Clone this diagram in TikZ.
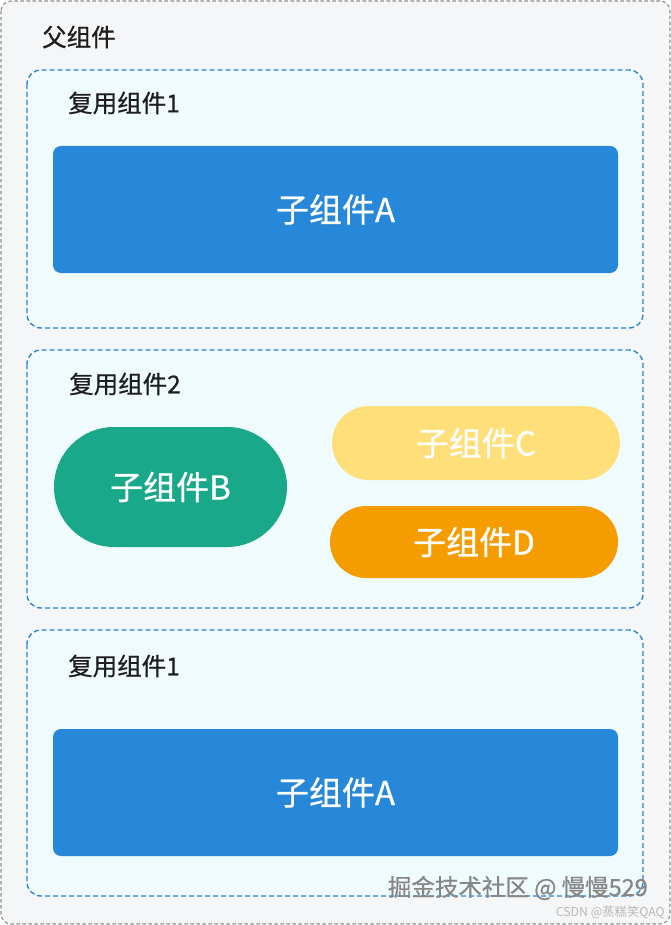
\documentclass[tikz,border=0pt]{standalone}
\usepackage{fontspec}
\setmainfont{Noto Sans CJK SC}
\newfontfamily\medfont[FakeBold=0.6]{Noto Sans CJK SC}
\usetikzlibrary{shapes.misc}
\definecolor{outerfill}{HTML}{F5F6F8}
\definecolor{outerline}{HTML}{8E8E8E}
\definecolor{innerfill}{HTML}{F0FBFE}
\definecolor{innerline}{HTML}{2F84D3}
\definecolor{ablue}{HTML}{2787D9}
\definecolor{bgreen}{HTML}{19A88A}
\definecolor{cyellow}{HTML}{FFDF7A}
\definecolor{dorange}{HTML}{F59D00}
\definecolor{labeltext}{HTML}{1E1E1E}
\tikzset{
  outerbox/.style={draw=outerline, fill=outerfill, dash pattern=on 3.5pt off 2.5pt, rounded corners=10pt, line width=1.1pt},
  reusebox/.style={draw=innerline, fill=innerfill, dash pattern=on 5pt off 3pt, rounded corners=14pt, line width=1.4pt},
  lbl/.style={anchor=west, text=labeltext, font=\medfont\fontsize{24.5}{28}\selectfont, inner sep=0pt},
  compbox/.style={rectangle, rounded corners=8pt, text=white, font=\medfont\fontsize{33}{38}\selectfont, inner sep=0pt},
  pill/.style={rounded rectangle, text=white, font=\medfont\fontsize{33}{38}\selectfont, inner sep=0pt},
}
\begin{document}
\begin{tikzpicture}[x=1pt,y=-1pt]
\useasboundingbox (0,0) rectangle (671,925);
\draw[outerbox] (1,1) rectangle (670,924);
\node[lbl] (parent) at (42,37) {父组件};
% reusable 1
\draw[reusebox] (27,70) rectangle (643,328);
\node[lbl] (r1) at (68,103) {复用组件1};
\node[compbox, fill=ablue, minimum width=565pt, minimum height=127pt] (a1) at (335.5,209.5) {子组件A};
% reusable 2
\draw[reusebox] (27,350) rectangle (643,608);
\node[lbl] (r2) at (69,384) {复用组件2};
\node[pill, fill=bgreen, minimum width=233pt, minimum height=120pt] (b) at (170.5,487) {子组件B};
\node[pill, fill=cyellow, minimum width=288pt, minimum height=74pt] (c) at (476,443) {子组件C};
\node[pill, fill=dorange, minimum width=288pt, minimum height=72pt] (d) at (474,542) {子组件D};
% reusable 3
\draw[reusebox] (27,630) rectangle (643,896);
\node[lbl] (r3) at (68,666) {复用组件1};
\node[compbox, fill=ablue, minimum width=565pt, minimum height=127pt] (a2) at (335.5,792.5) {子组件A};
% watermarks
\node[anchor=east, inner sep=0pt, text=gray!95, font=\medfont\fontsize{23.5}{26}\selectfont] (wm1) at (648,888) {掘金技术社区 @ 慢慢529};
\node[anchor=east, inner sep=0pt, text=gray!55, font=\fontsize{12.3}{14}\selectfont] (wm2) at (665,912) {CSDN @蒸糕笑QAQ};
\end{tikzpicture}
\end{document}
